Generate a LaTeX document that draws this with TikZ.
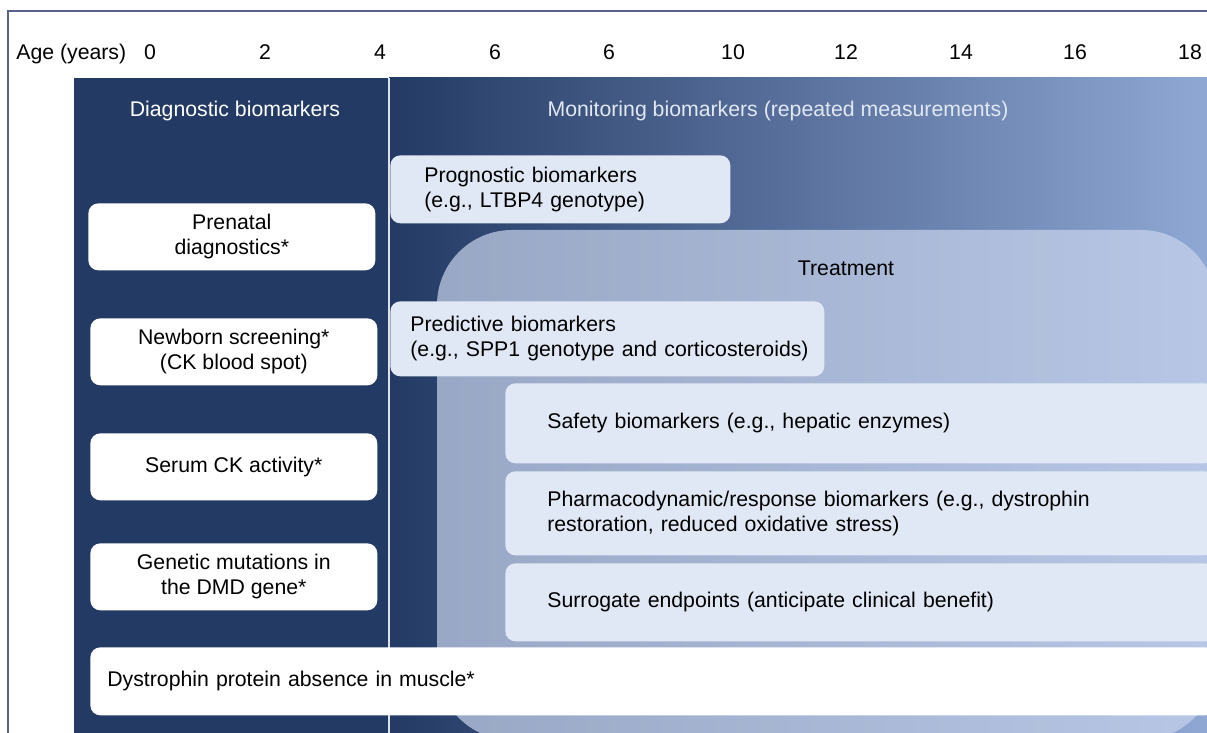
\documentclass[tikz,border=0pt]{standalone}
\usepackage{fontspec}
\setmainfont{Liberation Sans}
\usepackage{tikz}
\definecolor{navy}{RGB}{35,58,100}
\definecolor{skymid}{RGB}{80,106,152}
\definecolor{skyend}{RGB}{143,168,212}
\definecolor{frameline}{RGB}{90,98,140}
\definecolor{paleblue}{RGB}{225,232,245}
\definecolor{treatfill}{RGB}{200,212,236}
\definecolor{headtext}{RGB}{226,232,243}

\begin{document}
\begin{tikzpicture}[x=0.02cm, y=-0.02cm,
  every node/.style={font=\fontsize{12.1}{14.3}\selectfont},
  whitebox/.style={fill=white, rounded corners=0.2cm, anchor=north west,
    minimum width=5.74cm, minimum height=1.34cm, align=center, inner sep=0pt},
  palebox/.style={fill=paleblue, rounded corners=0.2cm, anchor=north west,
    align=left, inner ysep=0pt}]
\clip (0,0) rectangle (1207,733);
\fill [white] (0,0) rectangle (1207,733);
\draw [frameline, line width=1.2pt] (8,745) -- (8,11) -- (1215,11);

% panels
\fill [navy] (74,78) rectangle (389,745);
\shade [left color=navy, middle color=skymid, right color=skyend] (389,78) rectangle (1210,745);
\draw [white!85!navy, line width=1pt] (389,78) -- (389,745);
\node [white] (diag) at (235,111) {Diagnostic biomarkers};
\node [headtext] (moni) at (778,111) {Monitoring biomarkers (repeated measurements)};

% treatment
\fill [treatfill, fill opacity=0.7, rounded corners=1.5cm] (437,230) rectangle (1216,740);
\node (treat) at (846,268) {Treatment};

% monitoring boxes
\node [palebox, text width=5.44cm, inner xsep=0.68cm, minimum height=1.36cm] (progn) at (390,155)
  {Prognostic biomarkers\\(e.g., LTBP4 genotype)};
\node [palebox, text width=7.88cm, inner xsep=0.4cm, minimum height=1.5cm] (pred) at (390,301)
  {Predictive biomarkers\\\mbox{(e.g., SPP1 genotype and corticosteroids)}};
\node [palebox, text width=12.52cm, inner xsep=0.84cm, minimum height=1.6cm] (safe) at (505,383)
  {Safety biomarkers (e.g., hepatic enzymes)};
\node [palebox, text width=12.52cm, inner xsep=0.84cm, minimum height=1.68cm] (pharm) at (505,471)
  {Pharmacodynamic/response biomarkers (e.g., dystrophin\\restoration, reduced oxidative stress)};
\node [palebox, text width=12.52cm, inner xsep=0.84cm, minimum height=1.56cm] (surr) at (505,563)
  {Surrogate endpoints (anticipate clinical benefit)};

% diagnostic boxes
\node [whitebox] (prenat) at (88,203) {Prenatal\\diagnostics*};
\node [whitebox] (newborn) at (90,318) {Newborn screening*\\(CK blood spot)};
\node [whitebox] (serum) at (90,433) {Serum CK activity*};
\node [whitebox] (genet) at (90,543) {Genetic mutations in\\the DMD gene*};
\node [whitebox, align=left, text width=21.82cm, inner xsep=0.34cm, minimum height=1.36cm] (dystro) at (90,647)
  {Dystrophin protein absence in muscle*};

% age axis
\node [anchor=base west, inner xsep=0pt] (agelab) at (16,60) {Age (years)};
\foreach \x/\a [count=\i] in {150/0, 265/2, 380/4, 495/6, 609/6, 733/10, 846/12, 961/14, 1075/16, 1190/18}
  \node [anchor=base] (age\i) at (\x,60) {\a};
\end{tikzpicture}
\end{document}
